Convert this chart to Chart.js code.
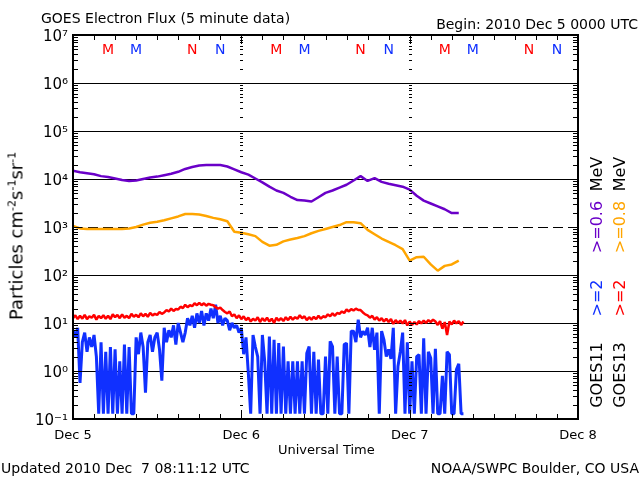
<!DOCTYPE html>
<html>
<head>
<meta charset="utf-8">
<script src="https://cdn.jsdelivr.net/npm/chart.js@4"></script>
<style>
  body { margin: 0; background: #fff; }
  #wrap { position: relative; width: 640px; height: 480px; font-family: "DejaVu Sans", sans-serif; color: #000; }
  #wrap canvas { position: absolute; left: 0; top: 0; }
  .txt { position: absolute; white-space: pre; font-size: 14px; line-height: 1; }
  .rot { position: absolute; white-space: pre; font-size: 16px; line-height: 1; transform: translate(-50%, -50%) rotate(-90deg); }
  .ytitle { font-size: 18px; }
  .ytitle sup { font-size: 11px; vertical-align: 7px; }
</style>
</head>
<body>
<div id="wrap">
  <canvas id="fluxChart" width="640" height="480"></canvas>
  <div class="txt" style="left:41px; top:11px;">GOES Electron Flux (5 minute data)</div>
  <div class="txt" style="right:2px; top:17px;">Begin: 2010 Dec 5 0000 UTC</div>
  <div class="txt" style="left:278px; top:443px; font-size:13px;">Universal Time</div>
  <div class="txt" style="left:1px; top:461px;">Updated 2010 Dec  7 08:11:12 UTC</div>
  <div class="txt" style="right:1px; top:461px;">NOAA/SWPC Boulder, CO USA</div>
  <div class="rot ytitle" style="left:16px; top:236px;">Particles cm<sup>-2</sup>s<sup>-1</sup>sr<sup>-1</sup></div>

  <div class="rot" style="left:597px; top:375px;">GOES11</div>
  <div class="rot" style="left:597px; top:298px; color:#1030ff;">&gt;=2</div>
  <div class="rot" style="left:597px; top:227px; color:#6a00c8;">&gt;=0.6</div>
  <div class="rot" style="left:597px; top:174px;">MeV</div>
  <div class="rot" style="left:620px; top:375px;">GOES13</div>
  <div class="rot" style="left:620px; top:298px; color:#ff0000;">&gt;=2</div>
  <div class="rot" style="left:620px; top:227px; color:#ffa500;">&gt;=0.8</div>
  <div class="rot" style="left:620px; top:174px;">MeV</div>
</div>
<script>
// axis text
const xTickLabels = ['Dec 5', 'Dec 6', 'Dec 7', 'Dec 8'];
const xTickHours = [0, 24, 48, 72];
const yTickLabels = ['10⁻¹', '10⁰', '10¹', '10²', '10³', '10⁴', '10⁵', '10⁶', '10⁷'];
const decades = [-1, 0, 1, 2, 3, 4, 5, 6, 7];

// local midnight (M) / noon (N) markers, hours after Dec 5 00 UT
const markerHours = [5, 9, 17, 21, 29, 33, 41, 45, 53, 57, 65, 69];
const markerText = ['M', 'M', 'N', 'N', 'M', 'M', 'N', 'N', 'M', 'M', 'N', 'N'];
const markerColor = ['#ff0000', '#1030ff', '#ff0000', '#1030ff', '#ff0000', '#1030ff', '#ff0000', '#1030ff', '#ff0000', '#1030ff', '#ff0000', '#1030ff'];

// log10 flux
const slowStep = 1;      // hours between points below
const g11e06 = [4.17, 4.14, 4.12, 4.10, 4.06, 4.04, 4.01, 3.98, 3.96, 3.97, 4.00, 4.03, 4.05, 4.08, 4.11, 4.15,
  4.21, 4.25, 4.28, 4.29, 4.29, 4.29, 4.26, 4.20, 4.14, 4.09, 4.01, 3.93, 3.84, 3.76, 3.71, 3.63,
  3.56, 3.55, 3.53, 3.62, 3.71, 3.76, 3.82, 3.88, 3.97, 4.06, 3.96, 4.02, 3.94, 3.90, 3.87, 3.84,
  3.78, 3.65, 3.55, 3.49, 3.43, 3.37, 3.29, 3.29];
const g13e08 = [3.02, 2.97, 2.96, 2.96, 2.96, 2.96, 2.96, 2.96, 2.97, 3.00, 3.05, 3.09, 3.11, 3.14, 3.18, 3.22,
  3.27, 3.27, 3.26, 3.23, 3.19, 3.16, 3.12, 2.90, 2.88, 2.85, 2.81, 2.69, 2.61, 2.63, 2.70, 2.74,
  2.77, 2.81, 2.87, 2.92, 2.96, 3.00, 3.04, 3.10, 3.10, 3.08, 2.94, 2.85, 2.76, 2.69, 2.62, 2.54,
  2.30, 2.37, 2.38, 2.22, 2.09, 2.19, 2.22, 2.30];

const fastStep = 1 / 3;  // 20 minutes
const g13e2 = [1.10, 1.16, 1.08, 1.15, 1.09, 1.17, 1.08, 1.14, 1.11, 1.17, 1.07, 1.15, 1.10, 1.16, 1.09,
  1.15, 1.08, 1.18, 1.12, 1.17, 1.10, 1.18, 1.11, 1.15, 1.10, 1.19, 1.13, 1.17, 1.12, 1.20,
  1.14, 1.19, 1.13, 1.21, 1.16, 1.19, 1.17, 1.23, 1.19, 1.22, 1.27, 1.24, 1.30, 1.25, 1.29,
  1.28, 1.34, 1.31, 1.38, 1.33, 1.37, 1.35, 1.41, 1.37, 1.42, 1.37, 1.41, 1.36, 1.40, 1.38,
  1.37, 1.33, 1.30, 1.32, 1.27, 1.23, 1.20, 1.24, 1.14, 1.18, 1.10, 1.16, 1.08, 1.14, 1.06,
  1.11, 1.03, 1.09, 1.05, 1.12, 1.02, 1.10, 1.04, 1.11, 1.03, 1.09, 1.00, 1.11, 1.05, 1.10,
  1.04, 1.12, 1.06, 1.13, 1.07, 1.12, 1.09, 1.16, 1.10, 1.14, 1.06, 1.12, 1.07, 1.13, 1.08,
  1.15, 1.09, 1.14, 1.12, 1.18, 1.14, 1.20, 1.15, 1.21, 1.19, 1.24, 1.21, 1.28, 1.24, 1.29,
  1.26, 1.30, 1.27, 1.27, 1.22, 1.18, 1.16, 1.11, 1.15, 1.07, 1.12, 1.05, 1.10, 1.03, 1.09,
  1.02, 1.08, 0.98, 1.06, 1.00, 1.05, 0.99, 1.06, 0.95, 1.03, 0.96, 1.02, 0.97, 1.04, 0.99,
  1.05, 1.00, 1.06, 1.02, 1.07, 1.03, 0.96, 1.04, 0.88, 1.02, 0.75, 1.03, 0.97, 1.05, 0.99,
  1.04, 0.96, 1.03];
const F = -0.89;         // counts at the bottom of the plot
const g11e2 = [0.85, 0.7, 0.9, -0.25, 0.6, 0.8, 0.4, 0.7, 0.5, 0.75, 0.3, F,
  0.6, F, 0.4, F, 0.5, F, 0.45, F, 0.2, F, 0.55, F,
  0.5, F, F, 0.7, 0.35, 0.8, 0.5, -0.45, 0.6, 0.75, 0.4, 0.7,
  0.8, 0.45, -0.2, 0.9, 0.6, 0.85, 0.7, 0.95, 0.55, 1.0, 0.8, 0.6,
  0.8, 1.1, 0.95, 1.15, 0.9, 1.2, 1.0, 1.25, 0.95, 1.2, 1.05, 1.3,
  1.1, 1.38, 1.0, 1.15, 0.95, 1.1, 1.05, 0.85, 1.0, 0.9, 0.95, 0.8,
  0.9, 0.35, 0.7, -0.05, F, 0.75, 0.5, 0.3, F, 0.75, 0.2, F,
  0.72, F, 0.65, F, 0.58, F, 0.51, F, 0.2, F, 0.2, F,
  0.2, F, 0.2, F, 0.37, 0.51, F, 0.4, F, 0.24, F, F,
  0.3, F, 0.62, 0.51, F, 0.3, F, F, 0.55, 0.58, F, 0.83,
  0.83, 0.6, 1.07, 0.7, 0.83, 0.75, 0.9, 0.5, 0.9, 0.44, 0.8, F,
  0.83, 0.65, 0.3, 0.45, 0.25, 0.9, F, 0.1, 0.4, 0.8, F, 0.6,
  F, 0.2, F, 0.3, 0.34, F, 0.68, F, 0.4, 0.27, F, 0.46,
  F, F, -0.1, F, 0.4, 0.34, F, F, 0.03, 0.15, F, F];

const toPoints = (arr, step) => arr.map((v, i) => ({ x: i * step, y: 10 ** v }));

// grid, inward ticks and M/N markers, drawn from the scales
const fluxFrame = {
    id: 'fluxFrame',
    beforeDatasetsDraw(chart) {
        const { ctx, chartArea: a, scales: { y } } = chart;
        ctx.save();
        ctx.strokeStyle = '#000';
        ctx.lineWidth = 1;
        decades.slice(1, -1).forEach(e => {
            const py = Math.round(y.getPixelForValue(10 ** e)) + 0.5;
            ctx.setLineDash(e === 3 ? [10, 5] : []);
            ctx.beginPath();
            ctx.moveTo(a.left, py);
            ctx.lineTo(a.right, py);
            ctx.stroke();
        });
        ctx.restore();
    },
    afterDatasetsDraw(chart) {
        const { ctx, chartArea: a, scales: { x, y } } = chart;
        ctx.save();
        ctx.strokeStyle = '#000';
        ctx.lineWidth = 1;

        const hTick = (x0, dir, py, len) => {
            ctx.beginPath();
            ctx.moveTo(x0, py);
            ctx.lineTo(x0 + dir * len, py);
            ctx.stroke();
        };
        const dayLines = xTickHours.slice(1, -1).map(h => Math.round(x.getPixelForValue(h)));
        decades.forEach(e => {
            for (let k = 1; k <= 9; k++) {
                if (e === 7 && k > 1) break;
                const py = Math.round(y.getPixelForValue(k * 10 ** e)) + 0.5;
                const len = k === 1 ? 9 : 5;
                hTick(a.left, 1, py, len);
                hTick(a.right, -1, py, len);
                dayLines.forEach(px => hTick(px - 1, 1, py, len - 2));
            }
        });

        for (let h = 0; h <= 72; h += 3) {
            const px = Math.round(x.getPixelForValue(h)) + 0.5;
            const len = h % 24 === 0 ? 9 : 5;
            ctx.beginPath();
            ctx.moveTo(px, a.bottom);
            ctx.lineTo(px, a.bottom - len);
            ctx.moveTo(px, a.top);
            ctx.lineTo(px, a.top + len);
            ctx.stroke();
        }

        ctx.lineWidth = 2;
        ctx.strokeRect(a.left, a.top, a.right - a.left, a.bottom - a.top);

        ctx.font = '14px "DejaVu Sans"';
        ctx.textAlign = 'center';
        ctx.textBaseline = 'middle';
        markerHours.forEach((h, i) => {
            ctx.fillStyle = markerColor[i];
            ctx.fillText(markerText[i], x.getPixelForValue(h), a.top + 15);
        });
        ctx.restore();
    }
};

new Chart(document.getElementById('fluxChart'), {
    type: 'line',
    data: {
        datasets: [
            { label: 'GOES11 >=0.6 MeV', data: toPoints(g11e06, slowStep), borderColor: '#6a00c8', borderWidth: 2.5, order: 0 },
            { label: 'GOES13 >=0.8 MeV', data: toPoints(g13e08, slowStep), borderColor: '#ffa500', borderWidth: 2.5, order: 0 },
            { label: 'GOES13 >=2 MeV', data: toPoints(g13e2, fastStep), borderColor: '#ff0000', borderWidth: 2.5, order: 1 },
            { label: 'GOES11 >=2 MeV', data: toPoints(g11e2, fastStep), borderColor: '#1030ff', borderWidth: 3, order: 2 }
        ]
    },
    options: {
        responsive: false,
        animation: false,
        layout: { padding: { top: 35, right: 62, bottom: 0, left: 0 } },
        elements: { point: { radius: 0 }, line: { tension: 0, borderJoinStyle: 'bevel' } },
        plugins: { legend: { display: false }, tooltip: { enabled: false } },
        scales: {
            x: {
                type: 'linear', min: 0, max: 72,
                grid: { display: false, drawTicks: false },
                border: { display: false },
                afterBuildTicks: s => { s.ticks = xTickHours.map(v => ({ value: v })); },
                afterFit: s => { s.height = 61; },
                ticks: {
                    autoSkip: false, maxRotation: 0, padding: 9, color: '#000',
                    font: { family: 'DejaVu Sans', size: 13 },
                    callback: (v, i) => xTickLabels[i]
                }
            },
            y: {
                type: 'logarithmic', min: 0.1, max: 1e7,
                grid: { display: false, drawTicks: false },
                border: { display: false },
                afterBuildTicks: s => { s.ticks = decades.map(e => ({ value: 10 ** e })); },
                afterFit: s => { s.width = 73; },
                ticks: {
                    autoSkip: false, padding: 5, color: '#000', labelOffset: 2,
                    font: { family: 'DejaVu Sans', size: 15 },
                    callback: (v, i) => yTickLabels[i]
                }
            }
        }
    },
    plugins: [fluxFrame]
});
</script>
</body>
</html>
